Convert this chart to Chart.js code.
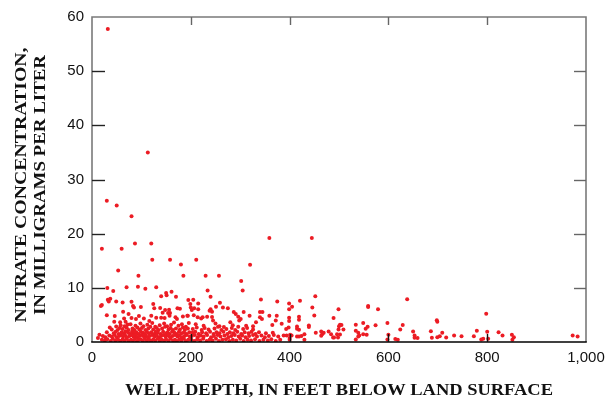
<!DOCTYPE html>
<html>
<head>
<meta charset="utf-8">
<script src="https://cdn.jsdelivr.net/npm/chart.js@4"></script>
<style>
  html, body { margin: 0; padding: 0; background: #fff; }
  #wrap { width: 613px; height: 404px; }
</style>
</head>
<body>
<div id="wrap"><canvas id="c" width="613" height="404"></canvas></div>
<script>
// Well depth (feet below land surface) and nitrate concentration (mg/L), one entry per well.
const depthFt = [
  32, 113, 30, 50, 80, 87, 120, 20, 60, 359,
  445, 122, 158, 211, 180, 320, 53, 94, 185, 230,
  257, 302, 31, 43, 70, 93, 108, 130, 140, 150,
  151, 161, 170, 234, 240, 305, 342, 195, 205, 215,
  375, 199, 200, 207, 202, 215, 259, 251, 265, 275,
  287, 291, 307, 240, 243, 238, 194, 206, 214, 221,
  224, 233, 243, 245, 296, 301, 298, 319, 340, 345,
  340, 344, 359, 374, 372, 280, 267, 332, 365, 384,
  20, 18, 32, 37, 34, 49, 62, 80, 83, 85,
  99, 124, 126, 138, 143, 148, 156, 158, 173, 178,
  30, 46, 63, 74, 80, 45, 57, 65, 68, 72,
  89, 95, 105, 120, 116, 130, 140, 147, 154, 157,
  169, 172, 184, 193, 36, 49, 15, 12,
  399, 405, 399, 421, 452, 446, 450, 399, 399, 419,
  419, 398, 393, 415, 415, 419, 439, 439, 388, 394,
  401, 404, 400, 400, 415, 419, 424, 430, 430, 453,
  464, 466, 469, 464, 479, 484, 488, 490, 489, 499,
  500, 502, 505, 509, 499, 496, 502, 498, 534, 534,
  539, 541, 539, 549, 549, 534, 554, 558, 556, 559,
  559, 574, 579,
  638, 598, 600, 598, 614, 619, 624, 629, 650, 653,
  653, 659, 686, 688, 698, 699, 699, 704, 709, 717,
  733, 748, 773, 779,
  798, 800, 788, 792, 802, 823, 831, 850, 854, 851,
  973, 983,
  // shallow wells, low concentrations
  58, 66, 78, 88, 98, 104, 112, 122, 128, 137,
  146, 152, 160, 166, 175, 182, 190, 196,
  40, 52, 56, 62, 70, 74, 82, 86, 92, 96,
  101, 108, 114, 118, 124, 131, 135, 142, 148, 155,
  159, 164, 170, 178, 184, 188, 194,
  30, 44, 48, 54, 60, 65, 68, 73, 77, 81,
  85, 90, 94, 99, 103, 107, 111, 115, 120, 126,
  129, 133, 139, 144, 150, 153, 157, 162, 167, 172,
  176, 181, 186, 191, 197,
  22, 27, 35, 40, 46, 50, 55, 59, 63, 67,
  71, 76, 80, 84, 88, 92, 96, 100, 105, 109,
  113, 117, 122, 127, 131, 136, 140, 145, 149, 154,
  158, 163, 168, 173, 177, 182, 187, 192, 198,
  20, 26, 31, 38, 42, 47, 53, 58, 62, 66,
  70, 74, 79, 83, 87, 91, 95, 99, 103, 107,
  111, 116, 120, 124, 128, 133, 137, 141, 146, 150,
  155, 159, 164, 168, 172, 177, 181, 186, 190, 195,
  // intermediate depths, low concentrations
  204, 212, 222, 228, 236, 248, 255, 262, 272, 283,
  290, 296, 306, 314, 326,
  203, 209, 216, 223, 231, 239, 246, 252, 258, 266,
  274, 279, 286, 294, 302, 309, 317, 323, 331, 338,
  352, 366,
  202, 208, 214, 220, 226, 233, 241, 247, 254, 260,
  268, 276, 282, 289, 297, 304, 311, 318, 326, 334,
  343, 350, 358, 368, 377,
  201, 207, 213, 219, 225, 232, 238, 244, 251, 257,
  264, 271, 278, 285, 292, 300, 307, 315, 322, 330,
  339, 347, 356, 363, 372, 381,
  210, 226, 250, 258, 285, 312, 326
];

const nitrateMgL = [
  57.8, 35.0, 26.1, 25.2, 23.2, 18.2, 18.2, 17.2, 17.2, 19.2,
  19.2, 15.2, 15.2, 15.2, 14.3, 14.25, 13.2, 12.25, 12.25, 12.25,
  12.25, 11.25, 9.95, 9.4, 10.1, 10.2, 9.85, 10.1, 8.45, 9.05,
  8.65, 9.3, 8.35, 9.5, 8.35, 9.5, 7.85, 7.75, 7.8, 7.1,
  7.5, 7.0, 6.35, 6.25, 5.9, 6.05, 7.25, 6.5, 6.35, 6.25,
  5.55, 5.15, 5.55, 6.05, 5.6, 5.75, 4.85, 4.95, 4.55, 4.35,
  4.55, 4.65, 4.6, 3.95, 4.65, 4.25, 3.95, 4.85, 5.55, 5.55,
  4.55, 4.25, 4.85, 4.85, 3.95, 3.65, 2.75, 3.65, 3.15, 3.35,
  6.85, 6.65, 7.8, 8.0, 7.5, 7.5, 7.3, 7.45, 6.65, 6.35,
  6.45, 7.0, 6.25, 6.3, 5.4, 5.9, 5.95, 5.35, 6.25, 6.15,
  4.95, 4.8, 5.6, 5.15, 4.45, 3.75, 3.65, 4.35, 3.75, 3.25,
  4.25, 4.8, 4.35, 4.85, 3.9, 4.5, 4.5, 4.45, 5.35, 4.85,
  4.55, 4.25, 4.7, 4.85, 2.7, 2.85, 1.35, 0.75,
  7.1, 6.5, 6.05, 7.6, 8.45, 6.35, 4.9, 4.5, 3.9, 4.65,
  4.1, 2.7, 2.4, 2.85, 2.45, 2.25, 3.05, 2.75, 1.2, 1.2,
  1.35, 1.2, 0.75, 0.4, 1.0, 1.0, 1.1, 1.45, 0.4, 1.7,
  1.95, 1.45, 1.7, 1.15, 1.95, 1.45, 0.85, 0.85, 4.45, 6.05,
  2.9, 3.2, 3.15, 2.3, 2.3, 1.45, 1.4, 0.85, 3.2, 2.1,
  1.7, 1.2, 1.0, 1.45, 3.5, 0.45, 2.45, 2.8, 1.35, 6.65,
  6.45, 3.1, 6.05,
  7.9, 3.5, 1.35, 0.45, 0.55, 0.4, 2.3, 3.15, 1.95, 1.2,
  0.8, 0.75, 2.0, 0.8, 4.0, 3.75, 0.9, 1.05, 1.7, 0.85,
  1.2, 1.05, 1.05, 2.1,
  5.2, 1.9, 0.45, 0.6, 0.6, 1.8, 1.2, 1.35, 0.9, 0.4,
  1.2, 1.0,
  // shallow wells, low concentrations
  3.1, 2.9, 3.3, 3.0, 3.4, 2.9, 3.2, 3.5, 2.8, 3.1,
  3.4, 2.9, 3.2, 3.6, 3.0, 3.3, 2.8, 3.5,
  2.3, 2.2, 2.6, 2.4, 2.7, 2.2, 2.5, 2.2, 2.7, 2.3,
  2.6, 2.2, 2.5, 2.8, 2.3, 2.6, 2.2, 2.5, 2.8, 2.3,
  2.6, 2.2, 2.5, 2.3, 2.7, 2.2, 2.5,
  1.8, 1.6, 1.9, 1.5, 1.8, 1.6, 2.0, 1.7, 1.5, 1.9,
  1.6, 1.8, 1.5, 1.9, 1.7, 1.5, 1.9, 1.6, 1.8, 1.5,
  1.9, 1.7, 1.5, 1.9, 1.6, 1.8, 1.5, 1.9, 1.7, 1.5,
  1.9, 1.6, 1.8, 1.5, 1.8,
  1.1, 0.9, 1.2, 1.0, 1.3, 0.9, 1.1, 1.3, 1.0, 1.2,
  0.9, 1.1, 1.3, 1.0, 1.2, 0.9, 1.1, 1.3, 1.0, 1.2,
  0.9, 1.1, 1.3, 1.0, 1.2, 0.9, 1.1, 1.3, 1.0, 1.2,
  0.9, 1.1, 1.3, 1.0, 1.2, 0.9, 1.1, 1.3, 1.0,
  0.4, 0.3, 0.5, 0.2, 0.6, 0.3, 0.4, 0.2, 0.5, 0.3,
  0.6, 0.2, 0.4, 0.3, 0.6, 0.2, 0.4, 0.5, 0.2, 0.6,
  0.3, 0.4, 0.2, 0.5, 0.3, 0.6, 0.2, 0.4, 0.3, 0.5,
  0.2, 0.6, 0.3, 0.4, 0.2, 0.5, 0.3, 0.6, 0.2, 0.4,
  // intermediate depths, low concentrations
  2.4, 2.7, 2.2, 2.6, 2.3, 2.5, 2.8, 2.2, 2.4, 2.6,
  2.2, 2.8, 2.4, 2.6, 2.3,
  1.7, 1.9, 1.5, 1.8, 1.6, 1.9, 1.5, 1.8, 1.6, 1.9,
  1.5, 1.8, 1.6, 1.9, 1.5, 1.8, 1.6, 1.9, 1.5, 1.8,
  1.6, 1.7,
  1.1, 1.3, 0.9, 1.2, 1.0, 1.3, 0.9, 1.1, 1.3, 1.0,
  1.2, 0.9, 1.1, 1.3, 1.0, 1.2, 0.9, 1.1, 1.3, 1.0,
  1.2, 0.9, 1.1, 1.3, 1.0,
  0.4, 0.2, 0.5, 0.3, 0.6, 0.2, 0.4, 0.3, 0.6, 0.2,
  0.4, 0.5, 0.2, 0.4, 0.3, 0.6, 0.2, 0.4, 0.3, 0.5,
  0.2, 0.4, 0.3, 0.5, 0.2, 0.4,
  3.3, 3.0, 3.4, 2.9, 3.1, 3.0, 2.9
];

const xTickValues = [0, 200, 400, 600, 800, 1000];
const xTickLabels = ['0', '200', '400', '600', '800', '1,000'];
const yTickValues = [0, 10, 20, 30, 40, 50, 60];

const xTitle = 'WELL DEPTH, IN FEET BELOW LAND SURFACE';
const yTitleLines = ['NITRATE CONCENTRATION,', 'IN MILLIGRAMS PER LITER'];

const points = depthFt.map((d, i) => ({ x: d, y: nitrateMgL[i] }));

// Frame around the plot area with inward-pointing tick marks.
const framePlugin = {
  id: 'frame',
  afterDatasetsDraw(chart) {
    const { ctx, chartArea: a, scales: { x, y } } = chart;
    ctx.save();
    ctx.lineCap = 'butt';
    ctx.strokeStyle = '#7a7a7a';
    ctx.lineWidth = 1.6;
    ctx.beginPath();
    ctx.moveTo(a.left, a.bottom);
    ctx.lineTo(a.left, a.top);
    ctx.lineTo(a.right, a.top);
    ctx.lineTo(a.right, a.bottom);
    ctx.stroke();
    ctx.strokeStyle = '#000';
    ctx.beginPath();
    ctx.moveTo(a.left - 0.8, a.bottom);
    ctx.lineTo(a.right + 0.8, a.bottom);
    ctx.stroke();

    ctx.lineWidth = 1.4;
    yTickValues.slice(1, -1).forEach(v => {
      const py = Math.round(y.getPixelForValue(v)) + 0.5;
      ctx.strokeStyle = '#222';
      ctx.beginPath();
      ctx.moveTo(a.left, py);
      ctx.lineTo(a.left + 13, py);
      ctx.stroke();
      ctx.strokeStyle = '#666';
      ctx.beginPath();
      ctx.moveTo(a.right, py);
      ctx.lineTo(a.right - 12, py);
      ctx.stroke();
    });
    xTickValues.slice(1, -1).forEach(v => {
      const px = Math.round(x.getPixelForValue(v)) + 0.5;
      ctx.strokeStyle = '#111';
      ctx.beginPath();
      ctx.moveTo(px, a.bottom);
      ctx.lineTo(px, a.bottom - 8);
      ctx.stroke();
      ctx.strokeStyle = '#666';
      ctx.beginPath();
      ctx.moveTo(px, a.top);
      ctx.lineTo(px, a.top + 8);
      ctx.stroke();
    });
    ctx.restore();
  }
};

// Draws a line of text centred at (cx, cy), stretched horizontally to a set width.
function fitText(ctx, text, cx, cy, width) {
  const w = ctx.measureText(text).width;
  ctx.save();
  ctx.translate(cx, cy);
  ctx.scale(width / w, 1);
  ctx.fillText(text, 0, 0);
  ctx.restore();
}

// Axis titles in bold serif capitals.
const titlePlugin = {
  id: 'axisTitles',
  afterDraw(chart) {
    const { ctx, chartArea: a } = chart;
    ctx.save();
    ctx.fillStyle = '#111';
    ctx.textAlign = 'center';
    ctx.textBaseline = 'middle';
    ctx.font = 'bold 16px "Liberation Serif", "Times New Roman", serif';
    fitText(ctx, xTitle, (a.left + a.right) / 2, 391, 428);
    ctx.font = 'bold 17px "Liberation Serif", "Times New Roman", serif';
    ctx.translate(0, 185);
    ctx.rotate(-Math.PI / 2);
    fitText(ctx, yTitleLines[0], 0, 22, 275);
    fitText(ctx, yTitleLines[1], 0, 41, 260);
    ctx.restore();
  }
};

new Chart(document.getElementById('c'), {
  type: 'scatter',
  data: {
    datasets: [{
      data: points,
      backgroundColor: '#ec1c24',
      borderWidth: 0,
      pointRadius: 2,
      pointHoverRadius: 2
    }]
  },
  options: {
    responsive: false,
    animation: false,
    devicePixelRatio: 1,
    layout: { padding: { left: 0, top: 10, right: 27, bottom: 0 } },
    plugins: {
      legend: { display: false },
      tooltip: { enabled: false }
    },
    scales: {
      x: {
        type: 'linear',
        min: 0,
        max: 1000,
        afterBuildTicks(scale) { scale.ticks = xTickValues.map(v => ({ value: v })); },
        afterFit(scale) { scale.height = 62; },
        grid: { display: false, drawTicks: false },
        border: { display: false },
        ticks: {
          padding: 7,
          maxRotation: 0,
          color: '#111',
          font: { family: '"Liberation Sans", Arial, sans-serif', size: 15 },
          callback: (v) => xTickLabels[xTickValues.indexOf(v)]
        }
      },
      y: {
        type: 'linear',
        min: 0,
        max: 60,
        afterBuildTicks(scale) { scale.ticks = yTickValues.map(v => ({ value: v })); },
        afterFit(scale) { scale.width = 92; },
        grid: { display: false, drawTicks: false },
        border: { display: false },
        ticks: {
          padding: 8,
          color: '#111',
          font: { family: '"Liberation Sans", Arial, sans-serif', size: 15 },
          callback: (v) => String(v)
        }
      }
    }
  },
  plugins: [framePlugin, titlePlugin]
});
</script>
</body>
</html>
